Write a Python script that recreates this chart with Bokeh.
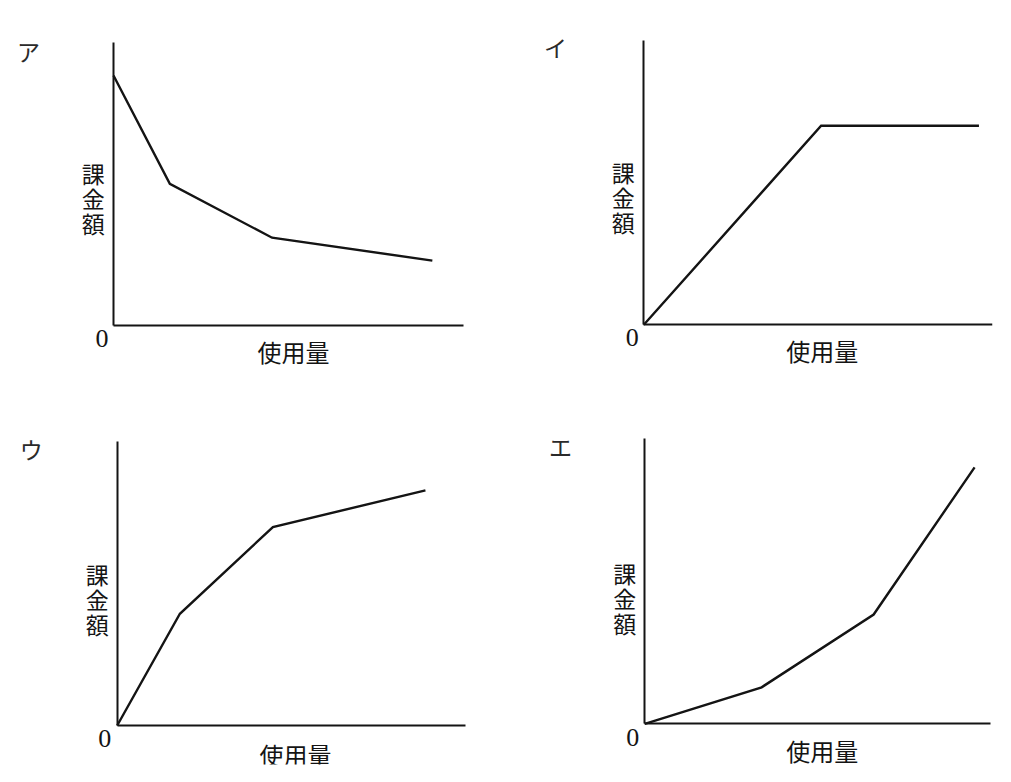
from bokeh.plotting import figure
from bokeh.models import Range1d, FixedTicker
from bokeh.layouts import column, row
from bokeh.embed import file_html
from bokeh.resources import INLINE
from bokeh.core.properties import value

# ---- data (arbitrary 0-100 units) ----
panel_labels = ["ア", "イ", "ウ", "エ"]
x_label = "使用量"
y_label = "課金額"
zero_label = "0"

a_x = [0, 16.1, 45.3, 91.1]
a_y = [88.3, 50.0, 30.9, 22.8]

i_x = [0, 50.9, 96.2]
i_y = [0, 70.0, 70.0]

u_x = [0, 18.0, 44.7, 88.5]
u_y = [0, 39.3, 69.8, 82.7]

e_x = [0, 33.8, 66.2, 95.4]
e_y = [0, 12.8, 38.3, 89.9]

series = [(a_x, a_y), (i_x, i_y), (u_x, u_y), (e_x, e_y)]
AXIS_MAX = 100

# ---- layout geometry (pixels) ----
fig_sizes = [(505, 391), (497, 391), (505, 383), (497, 383)]
origins = [(113, 324.5), (138.3, 324.3), (116.7, 334), (139.3, 332.3)]
axis_len = [(350, 282.5), (348.4, 284.3), (348.3, 284.3), (345.7, 285.3)]
PAD = 10
# label offsets relative to the origin in px: (dx, dy_up)
offs_zero = [(-11.5, -13.5), (-11.6, -12.4), (-12.4, -13.3), (-12, -13.4)]
offs_x = [(180, -26), (178.4, -26), (178.3, -28.5), (177.4, -26.5)]
offs_y = [(-20.3, 127.5), (-20.6, 127.5), (-20, 126.7), (-20, 125.6)]
offs_panel = [(-85, 274.5), (-88.3, 277.6), (-86, 276.7), (-84.3, 278.3)]
Y_CHAR_STEP = 25

JP = "Noto Sans CJK JP"
INK = "#141414"


def make_panel(k):
    xs, ys = series[k]
    W, H = fig_sizes[k]
    ox, oy = origins[k]
    Lx, Ly = axis_len[k]
    sx, sy = Lx / AXIS_MAX, Ly / AXIS_MAX
    x0 = -(ox - PAD) / sx
    y0 = -((H - PAD) - oy) / sy
    p = figure(width=W, height=H, output_backend="svg", toolbar_location=None,
               x_range=Range1d(x0, x0 + (W - 2 * PAD) / sx),
               y_range=Range1d(y0, y0 + (H - 2 * PAD) / sy),
               min_border_left=PAD, min_border_right=PAD,
               min_border_top=PAD, min_border_bottom=PAD)
    p.grid.visible = False
    p.outline_line_color = None
    p.background_fill_color = "white"
    p.border_fill_color = "white"
    for ax in (p.xaxis, p.yaxis):
        ax.ticker = FixedTicker(ticks=[])
        ax.fixed_location = 0
        ax.bounds = (0, AXIS_MAX)
        ax.axis_line_width = 2
        ax.axis_line_color = INK
        ax.major_tick_line_color = None
        ax.minor_tick_line_color = None
        ax.major_tick_out = 0
        ax.major_tick_in = 0
        ax.minor_tick_out = 0
        ax.major_label_standoff = 0
        ax.major_label_text_font_size = "0px"
    p.line(xs, ys, line_width=2.4, line_color=INK, line_join="miter")

    def put(dx, dy, txt, font, size, color=INK):
        p.text(x=[dx / sx], y=[dy / sy], text=[txt],
               text_font=value(font), text_font_size=value(size),
               text_color=color, text_align="center", text_baseline="middle")

    put(*offs_zero[k], zero_label, "Liberation Serif", "26px")
    put(*offs_x[k], x_label, JP, "24px")
    dx, dy = offs_y[k]
    n = len(y_label)
    for j, ch in enumerate(y_label):
        put(dx, dy + ((n - 1) / 2 - j) * Y_CHAR_STEP, ch, JP, "23px")
    put(*offs_panel[k], panel_labels[k], JP, "23px", color="#2a2a2a")
    return p


panels = [make_panel(k) for k in range(4)]
layout = column(row(panels[0], panels[1], spacing=0),
                row(panels[2], panels[3], spacing=0), spacing=0)

open("out.html", "w").write(file_html(layout, INLINE))
